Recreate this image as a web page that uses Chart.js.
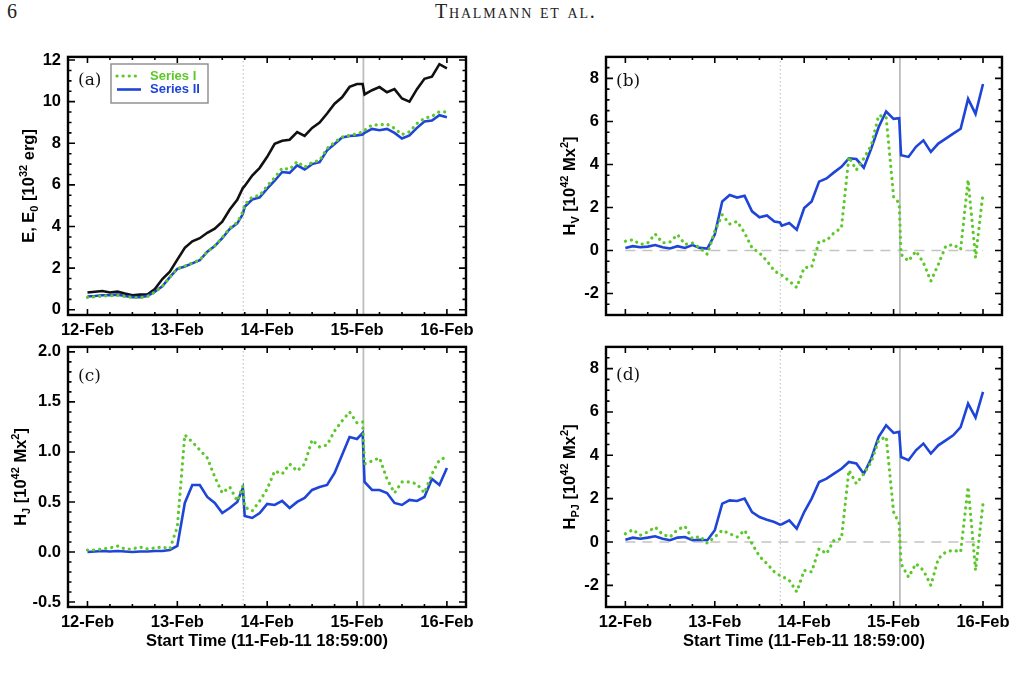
<!DOCTYPE html>
<html>
<head>
<meta charset="utf-8">
<script src="https://cdn.jsdelivr.net/npm/chart.js@4.4.0/dist/chart.umd.min.js"></script>
<style>
  html, body { margin: 0; padding: 0; background: #fff; }
  body { width: 1017px; height: 677px; position: relative; overflow: hidden; }
  canvas { position: absolute; }
  .hdr { position: absolute; top: 0px; font-family: "Liberation Serif", "DejaVu Serif", serif; font-size: 20px; color: #222; }
</style>
</head>
<body>
<div class="hdr" style="left:7px;">6</div>
<div class="hdr" style="left:435px; font-variant: small-caps; letter-spacing: 1.8px;">Thalmann et al.</div>
<canvas id="pa" width="520" height="300" style="left:0px; top:40px;"></canvas>
<canvas id="pb" width="477" height="300" style="left:540px; top:40px;"></canvas>
<canvas id="pc" width="520" height="320" style="left:0px; top:330px;"></canvas>
<canvas id="pd" width="477" height="320" style="left:540px; top:330px;"></canvas>
<script>
// hours since 12-Feb 00:00
const hours = [0,2,4,6,8,10,12,14,16,18,20,22,24,26,28,30,32,34,36,38,40,41.5,
  42,44,46,48,50,52,54,56,58,60,62,64,66,68,70,72,73.5,
  74,76,78,80,82,84,86,88,90,92,94,96];

const dayTicks = [0, 24, 48, 72, 96];
const dayLabels = ["12-Feb", "13-Feb", "14-Feb", "15-Feb", "16-Feb"];
const flareHours = [41.6, 73.7];

// (a) energies
const aEnergy = [0.83,0.87,0.9,0.83,0.87,0.78,0.7,0.73,0.73,1.0,1.48,1.83,2.41,2.98,3.29,3.44,3.7,3.9,4.23,4.82,5.28,
  5.85,
  5.95,6.45,6.82,7.35,7.97,8.12,8.17,8.54,8.35,8.74,9.0,9.43,9.9,10.21,10.71,10.85,
  10.85,
  10.35,10.55,10.7,10.45,10.6,10.15,10.0,10.6,11.1,11.2,11.8,11.6];
const aSeriesI = [0.6,0.62,0.66,0.68,0.7,0.64,0.6,0.58,0.64,0.85,1.13,1.57,1.97,2.1,2.25,2.4,2.8,3.07,3.47,3.92,4.2,
  4.7,
  5.05,5.42,5.5,5.95,6.35,6.8,6.75,7.12,6.85,7.08,7.18,7.75,8.05,8.3,8.38,8.45,
  8.55,
  8.62,8.88,8.88,8.92,8.72,8.42,8.55,8.95,9.2,9.3,9.52,9.5];
const aSeriesII = [0.64,0.66,0.7,0.7,0.73,0.66,0.61,0.61,0.66,0.87,1.13,1.57,1.97,2.08,2.23,2.38,2.79,3.06,3.44,3.89,4.15,
  4.6,
  4.95,5.3,5.4,5.82,6.2,6.62,6.58,6.94,6.74,7.0,7.09,7.66,7.97,8.28,8.35,8.38,
  8.42,
  8.5,8.69,8.63,8.69,8.5,8.23,8.38,8.74,9.05,9.09,9.35,9.25];

// (b) H_V
const bSeriesI = [0.43,0.5,0.28,0.35,0.77,0.35,0.4,0.74,0.28,0.35,0.12,-0.18,0.89,1.66,1.23,1.35,0.82,0.12,-0.11,-0.49,-0.95,
  -1.1,
  -1.15,-1.42,-1.72,-0.8,-0.77,0.43,0.46,0.82,1.05,4.35,3.74,4.28,4.89,6.28,6.2,2.5,
  2.2,
  -0.18,-0.49,-0.03,-0.57,-1.42,-0.65,0.2,0.28,0.05,3.28,-0.34,2.66];
const bSeriesII = [0.12,0.2,0.15,0.18,0.25,0.15,0.09,0.2,0.12,0.25,0.12,0.09,0.74,2.28,2.58,2.46,2.54,1.82,1.54,1.63,1.35,
  1.3,
  1.15,1.28,0.97,1.97,2.28,3.2,3.35,3.63,3.89,4.28,4.25,3.85,4.74,5.74,6.46,6.12,
  6.15,
  4.43,4.35,4.82,5.12,4.58,4.97,5.2,5.43,5.66,7.05,6.35,7.74];

// (c) H_J
const cSeriesI = [0.02,0.02,0.03,0.04,0.06,0.03,0.03,0.05,0.03,0.04,0.05,0.03,0.25,1.17,1.1,1.02,0.94,0.75,0.59,0.65,0.51,
  0.66,
  0.45,0.41,0.51,0.63,0.81,0.78,0.88,0.81,0.88,1.12,1.05,1.07,1.21,1.31,1.4,1.29,
  1.3,
  0.88,0.91,0.94,0.73,0.59,0.7,0.7,0.68,0.59,0.78,0.92,0.95];
const cSeriesII = [0,0.005,0.01,0.005,0.01,0.005,0,0.005,0.005,0.01,0.01,0.02,0.06,0.49,0.67,0.67,0.55,0.49,0.39,0.44,0.5,
  0.64,
  0.36,0.34,0.39,0.48,0.47,0.51,0.44,0.5,0.54,0.62,0.65,0.67,0.79,0.97,1.15,1.13,
  1.19,
  0.7,0.62,0.62,0.59,0.49,0.47,0.52,0.51,0.55,0.73,0.67,0.84];

// (d) H_PJ
const dSeriesI = [0.38,0.57,0.31,0.46,0.69,0.35,0.23,0.57,0.72,0.15,0.26,-0.05,0.23,0.54,0.38,0.23,0.54,-0.08,-0.66,-1.0,-1.38,
  -1.55,
  -1.58,-1.77,-2.3,-1.31,-1.38,-0.31,-0.54,0.08,0.15,3.31,2.69,3.15,3.69,4.69,4.85,1.38,
  0.85,
  -1.0,-1.62,-1.0,-1.31,-2.0,-0.77,-0.46,-0.38,-0.46,2.54,-1.31,1.77];
const dSeriesII = [0.1,0.2,0.15,0.2,0.26,0.15,0.08,0.2,0.23,0.08,0.1,0.08,0.54,1.77,1.92,1.89,2.0,1.38,1.15,1.03,0.92,
  0.8,
  0.82,1.0,0.62,1.38,2.0,2.77,2.92,3.15,3.38,3.69,3.62,3.15,3.85,4.85,5.38,5.03,
  5.08,
  3.92,3.77,4.23,4.54,4.08,4.46,4.69,4.92,5.3,6.38,5.74,6.92];

const aYTicks = [0, 2, 4, 6, 8, 10, 12];
const bYTicks = [-2, 0, 2, 4, 6, 8];
const cYTicks = [-0.5, 0, 0.5, 1, 1.5, 2];
const dYTicks = [-2, 0, 2, 4, 6, 8];

const GREEN = "#5cc82a";
const BLUE = "#1f45d8";
const SANS = '"Liberation Sans", Arial, sans-serif';

const xyOf = vals => hours.map((h, i) => ({ x: h, y: vals[i] }));

function seriesSets(s1, s2, black) {
  const sets = [
    { label: "Series I", data: xyOf(s1), borderColor: GREEN, borderWidth: 3.2,
      borderDash: [0.1, 6], borderCapStyle: "round" },
    { label: "Series II", data: xyOf(s2), borderColor: BLUE, borderWidth: 2.6 }
  ];
  if (black) sets.push({ label: "E", data: xyOf(black), borderColor: "#111", borderWidth: 2.6 });
  return sets;
}

function zeroSet() {
  return { label: "zero", data: [{ x: hours[0], y: 0 }, { x: hours[hours.length - 1], y: 0 }],
    borderColor: "#c4c4c4", borderWidth: 1.5, borderDash: [10, 7] };
}

const panels = [
  { id: "pa", left: 0, top: 40, w: 520, h: 300, area: [68, 53, 466, 315], y: [-0.25, 12.15],
    yTicks: aYTicks, yMinor: 0.5, fmt: v => String(v), tag: "(a)", tagY: 28, xLabels: true, xTitle: false,
    sets: seriesSets(aSeriesI, aSeriesII, aEnergy), legend: true, titleX: 34,
    yTitle: [["E, E"], ["0", "sub"], [" [10"], ["32", "sup"], [" erg]"]] },
  { id: "pb", left: 540, top: 40, w: 477, h: 300, area: [606, 53, 1002, 315], y: [-3, 9],
    yTicks: bYTicks, yMinor: 0.5, fmt: v => String(v), tag: "(b)", tagY: 29, xLabels: false, xTitle: false,
    sets: seriesSets(bSeriesI, bSeriesII).concat([zeroSet()]), legend: false, titleX: 35,
    yTitle: [["H"], ["V", "sub"], [" [10"], ["42", "sup"], [" Mx"], ["2", "sup"], ["]"]] },
  { id: "pc", left: 0, top: 330, w: 520, h: 320, area: [68, 345, 466, 607], y: [-0.55, 2.05],
    yTicks: cYTicks, yMinor: 0.1, fmt: v => v.toFixed(1), tag: "(c)", tagY: 34, xLabels: true, xTitle: true,
    sets: seriesSets(cSeriesI, cSeriesII), legend: false, titleX: 26,
    yTitle: [["H"], ["J", "sub"], [" [10"], ["42", "sup"], [" Mx"], ["2", "sup"], ["]"]] },
  { id: "pd", left: 540, top: 330, w: 477, h: 320, area: [606, 346, 1002, 607], y: [-3, 9],
    yTicks: dYTicks, yMinor: 0.5, fmt: v => String(v), tag: "(d)", tagY: 33, xLabels: true, xTitle: true,
    sets: seriesSets(dSeriesI, dSeriesII).concat([zeroSet()]), legend: false, titleX: 35,
    yTitle: [["H"], ["PJ", "sub"], [" [10"], ["42", "sup"], [" Mx"], ["2", "sup"], ["]"]] }
];

function drawRich(ctx, parts, x, y, rotate) {
  const fontOf = p => p[1] ? "bold 11px " + SANS : "bold 16.5px " + SANS;
  let total = 0;
  parts.forEach(p => { ctx.font = fontOf(p); total += ctx.measureText(p[0]).width; });
  ctx.save();
  ctx.translate(x, y);
  if (rotate) ctx.rotate(-Math.PI / 2);
  ctx.fillStyle = "#000";
  ctx.textBaseline = "alphabetic";
  let cx = -total / 2;
  parts.forEach(p => {
    ctx.font = fontOf(p);
    const dy = p[1] === "sup" ? -7 : p[1] === "sub" ? 4 : 0;
    ctx.fillText(p[0], cx, dy);
    cx += ctx.measureText(p[0]).width;
  });
  ctx.restore();
}

function stepValues(min, max, step) {
  const out = [];
  for (let k = Math.ceil(min / step - 1e-9); k * step <= max + 1e-9; k++) out.push(+(k * step).toFixed(6));
  return out;
}

const decoPlugin = {
  id: "deco",
  beforeDatasetsDraw(chart) {
    const { ctx, chartArea: a, scales: { x } } = chart;
    ctx.save();
    ctx.beginPath();
    ctx.rect(a.left, a.top, a.width, a.height);
    ctx.clip();
    flareHours.forEach((h, i) => {
      const px = x.getPixelForValue(h);
      ctx.strokeStyle = i ? "#bdbdbd" : "#c8c8c8";
      ctx.lineWidth = i ? 1.8 : 1.3;
      ctx.setLineDash(i ? [] : [1.5, 2.5]);
      ctx.beginPath();
      ctx.moveTo(px, a.top);
      ctx.lineTo(px, a.bottom);
      ctx.stroke();
    });
    ctx.restore();
  },
  afterDraw(chart, args, opts) {
    const p = opts.panel;
    const { ctx, chartArea: a, scales: { x, y } } = chart;
    ctx.save();
    ctx.strokeStyle = "#000";
    ctx.setLineDash([]);
    // ticks on all four sides, pointing inwards
    ctx.lineWidth = 1.6;
    stepValues(0, 96, 6).forEach(v => {
      const px = x.getPixelForValue(v);
      const len = v % 24 === 0 ? 6 : 3;
      ctx.beginPath();
      ctx.moveTo(px, a.bottom); ctx.lineTo(px, a.bottom - len);
      ctx.moveTo(px, a.top); ctx.lineTo(px, a.top + len);
      ctx.stroke();
    });
    stepValues(p.y[0], p.y[1], p.yMinor).forEach(v => {
      const py = y.getPixelForValue(v);
      if (py < a.top + 1 || py > a.bottom - 1) return;
      const major = p.yTicks.some(t => Math.abs(t - v) < 1e-6);
      const len = major ? 7 : 3.5;
      ctx.beginPath();
      ctx.moveTo(a.left, py); ctx.lineTo(a.left + len, py);
      ctx.moveTo(a.right, py); ctx.lineTo(a.right - len, py);
      ctx.stroke();
    });
    ctx.lineWidth = 2.4;
    ctx.strokeRect(a.left, a.top, a.width, a.height);

    // panel tag
    ctx.fillStyle = "#111";
    ctx.font = '17px "DejaVu Serif", serif';
    ctx.textBaseline = "alphabetic";
    ctx.fillText(p.tag, a.left + 10, a.top + p.tagY);

    // legend
    if (p.legend) {
      const lx = 111 - p.left, ly = 64 - p.top;
      ctx.lineWidth = 1.4;
      ctx.strokeStyle = "#8a8a8a";
      ctx.strokeRect(lx, ly, 97, 39);
      chart.data.datasets.slice(0, 2).forEach((ds, i) => {
        const yy = ly + 12 + i * 13.5;
        ctx.strokeStyle = ds.borderColor;
        ctx.lineWidth = ds.borderWidth;
        ctx.lineCap = ds.borderCapStyle || "butt";
        ctx.setLineDash(ds.borderDash || []);
        ctx.beginPath();
        ctx.moveTo(lx + 6, yy); ctx.lineTo(lx + 30, yy);
        ctx.stroke();
        ctx.setLineDash([]);
        ctx.lineCap = "butt";
        ctx.fillStyle = ds.borderColor;
        ctx.font = "bold 13px " + SANS;
        ctx.textBaseline = "middle";
        ctx.fillText(ds.label, lx + 39, yy);
      });
    }

    // axis titles
    drawRich(ctx, p.yTitle, p.titleX, (a.top + a.bottom) / 2, true);
    if (p.xTitle) drawRich(ctx, [["Start Time (11-Feb-11 18:59:00)"]], (a.left + a.right) / 2, 646 - p.top, false);
    ctx.restore();
  }
};

panels.forEach(p => {
  const [l, t, r, b] = p.area;
  const tickFont = { family: SANS, size: 16.5, weight: "bold" };
  new Chart(document.getElementById(p.id).getContext("2d"), {
    type: "line",
    data: { datasets: p.sets },
    options: {
      responsive: false,
      animation: false,
      devicePixelRatio: 1,
      elements: { point: { radius: 0 }, line: { tension: 0, fill: false } },
      layout: { padding: { left: 0, top: t - p.top, right: p.left + p.w - r, bottom: 0 } },
      plugins: { legend: { display: false }, tooltip: { enabled: false }, deco: { panel: p } },
      scales: {
        x: {
          type: "linear", min: -5.2, max: 101.1,
          afterBuildTicks: s => { s.ticks = dayTicks.map(v => ({ value: v })); },
          afterFit: s => { s.height = p.top + p.h - b; },
          grid: { display: false, drawTicks: false },
          border: { display: false },
          ticks: {
            display: p.xLabels, autoSkip: false, maxRotation: 0, padding: 6,
            color: "#000", font: tickFont,
            callback: v => dayLabels[dayTicks.indexOf(v)]
          }
        },
        y: {
          type: "linear", min: p.y[0], max: p.y[1],
          afterBuildTicks: s => { s.ticks = p.yTicks.map(v => ({ value: v })); },
          afterFit: s => { s.width = l - p.left; },
          grid: { display: false, drawTicks: false },
          border: { display: false },
          ticks: { padding: 7, color: "#000", font: tickFont, callback: v => p.fmt(v) }
        }
      }
    },
    plugins: [decoPlugin]
  });
});
</script>
</body>
</html>
